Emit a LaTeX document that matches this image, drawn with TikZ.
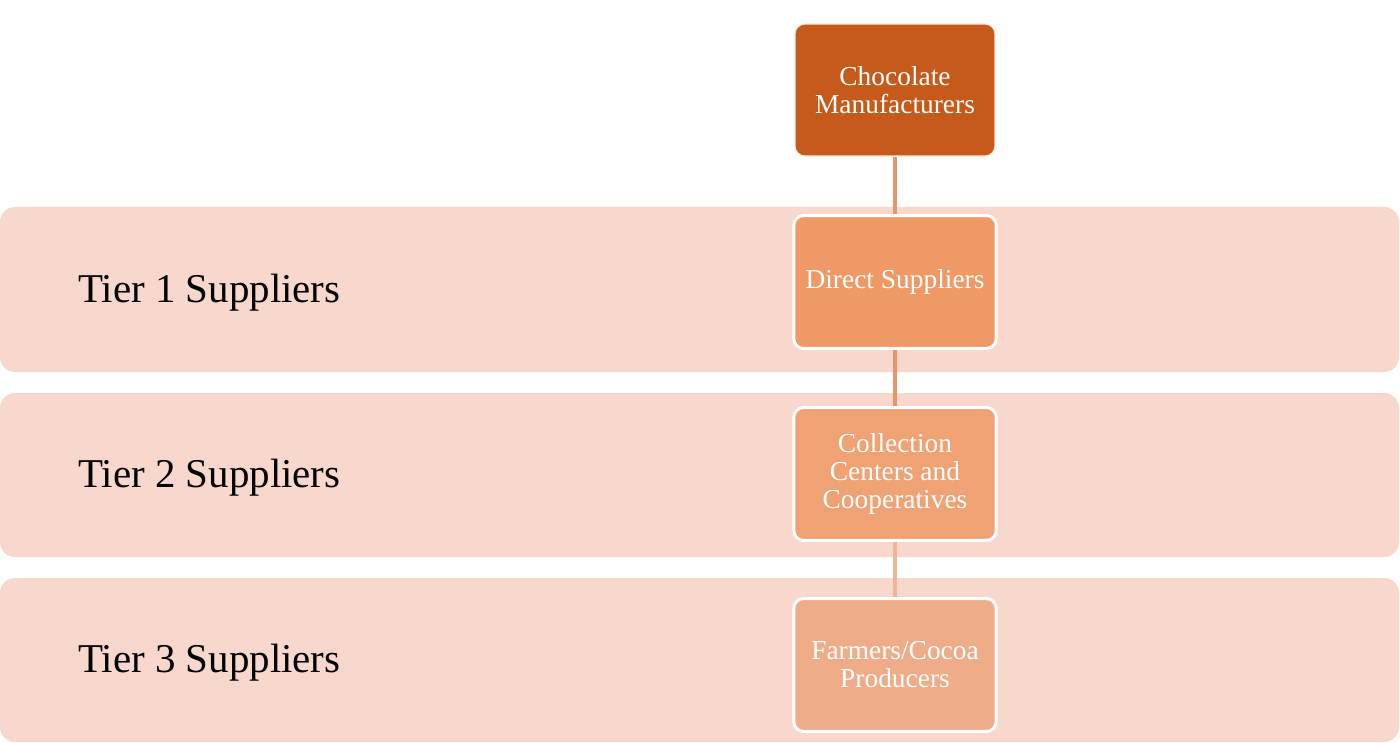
\documentclass[tikz,border=0pt]{standalone}
\usepackage{fontspec}
\setmainfont{Liberation Serif}
\usetikzlibrary{positioning}
\definecolor{CBrown}{HTML}{C55A1B}
\definecolor{COrange}{HTML}{EE9966}
\definecolor{CPeach}{HTML}{EFA274}
\definecolor{CApricot}{HTML}{EEAC88}
\definecolor{CBand}{HTML}{F8D7CC}
\definecolor{CLink}{HTML}{E9956A}
\tikzset{
    band/.style = {fill=CBand, rounded corners=0.3cm},
    tier/.style = {anchor=west, font=\fontsize{23.3}{28}\selectfont},
    box/.style = {draw=white, line width=1.7pt, rounded corners=0.2cm,
        minimum width=4.05cm, minimum height=2.66cm, align=center,
        text=white, font=\fontsize{15.6}{15.9}\selectfont},
    link/.style = {draw=CLink, line width=2pt}
}
\begin{document}
\begin{tikzpicture}[x=0.02cm,y=-0.02cm]
        \useasboundingbox (0,0) rectangle (1400,743);
        % tier bands
        \fill[band] (0,207) rectangle (1399,372);
        \fill[band] (0,393) rectangle (1399,557);
        \fill[band] (0,578) rectangle (1399,742);
        \node[tier] (t1) at (72,293) {Tier 1 Suppliers};
        \node[tier] (t2) at (72,478) {Tier 2 Suppliers};
        \node[tier] (t3) at (72,663) {Tier 3 Suppliers};
        % chain
        \node[box, fill=CBrown, draw=CBand!60, line width=0.6pt,
              minimum width=4cm, minimum height=2.64cm] (maker) at (895,90) {Chocolate\\Manufacturers};
        \node[box, fill=COrange] (direct) at (895,282) {Direct Suppliers};
        \node[box, fill=CPeach] (collect) at (895,474) {Collection\\Centers and\\Cooperatives};
        \node[box, fill=CApricot] (farmer) at (895,665) {Farmers/Cocoa\\Producers};
        \draw[link] (maker) -- (direct);
        \draw[link] (direct) -- (collect);
        \draw[link, CLink!70] (collect) -- (farmer);
\end{tikzpicture}
\end{document}
